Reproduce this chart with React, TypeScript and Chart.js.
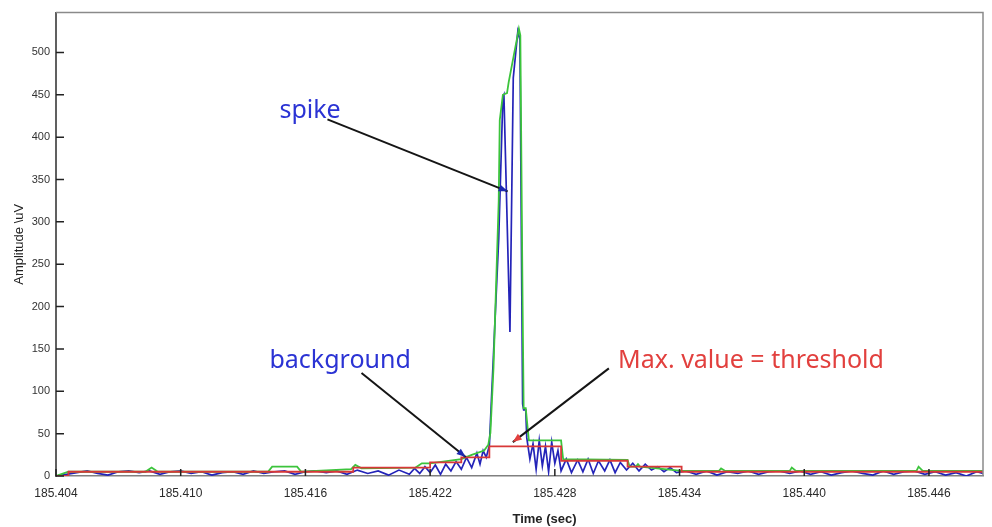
import React, { useEffect, useRef } from "react";
import { Chart, registerables } from "chart.js";

Chart.register(...registerables);

// Time axis: milliseconds after T0 seconds
const T0 = 185.404;
const X_MIN = 0;
const X_MAX = 44.6;
const Y_MIN = 0;
const Y_MAX = 547;
const xTickMs = [0, 6, 12, 18, 24, 30, 36, 42];
const yTickValues = [0, 50, 100, 150, 200, 250, 300, 350, 400, 450, 500];

// Blue: raw signal amplitude (uV)
const blueMs = [
  0, 0.5, 1.0, 1.5, 2.0, 2.5, 3.0, 3.5, 4.0, 4.5, 5.0, 5.5, 6.0, 6.5, 7.0, 7.5, 8.0, 8.5, 9.0, 9.5,
  10.0, 10.5, 11.0, 11.5, 12.0, 12.5, 13.0, 13.5, 14.0, 14.5, 15.0, 15.5, 16.0, 16.5, 17.0, 17.25,
  17.5, 17.75, 18.0, 18.25, 18.5, 18.75, 19.0, 19.25, 19.5, 19.75, 20.0, 20.25, 20.4, 20.55, 20.7, 20.85,
  21.3, 21.5, 21.55, 21.84, 22.0, 22.1, 22.22, 22.32, 22.45, 22.5, 22.6, 22.65,
  22.8, 22.95, 23.1, 23.25, 23.4, 23.55, 23.7, 23.85, 24.0, 24.15, 24.3,
  24.55, 24.8, 25.1, 25.35, 25.6, 25.85, 26.1, 26.4, 26.65, 26.9, 27.15, 27.45,
  27.75, 28.05, 28.35, 28.65, 28.95, 29.25, 29.55, 29.85,
  30.3, 30.8, 31.3, 31.8, 32.3, 32.8, 33.3, 33.8, 34.3, 34.8, 35.3, 35.8, 36.3, 36.8, 37.3, 37.8,
  38.3, 38.8, 39.3, 39.8, 40.3, 40.8, 41.3, 41.8, 42.3, 42.8, 43.3, 43.8, 44.3, 44.6,
];
const blueUv = [
  0, 2, 4, 6, 3, 1, 5, 6, 4, 6, 2, 5, 6, 3, 5, 1, 4, 5, 2, 6,
  3, 5, 6, 2, 5, 6, 4, 6, 2, 7, 3, 6, 1, 7, 2, 9,
  3, 11, 4, 13, 2, 14, 6, 17, 8, 22, 10, 27, 14, 30, 22, 36,
  280, 447, 450, 170, 470, 495, 525, 515, 85, 78, 78, 45,
  20, 38, 8, 42, 12, 35, 5, 40, 15, 30, 6,
  20, 4, 19, 5, 20, 3, 18, 6, 19, 4, 16, 7,
  15, 6, 14, 7, 11, 5, 10, 4,
  6, 2, 6, 1, 5, 3, 6, 2, 5, 6, 3, 6, 2, 5, 1, 4,
  6, 3, 1, 6, 2, 5, 6, 2, 5, 1, 4, 0, 5, 3,
];

// Green: envelope
const greenMs = [
  0, 0.6, 4.3, 4.6, 4.9, 10.2, 10.4, 11.6, 11.8, 14.2, 14.4, 14.7, 17.3, 17.6, 18.0, 19.5, 20.0, 20.6,
  20.8, 20.9, 21.05, 21.3, 21.35, 21.5, 21.7, 21.78, 22.27, 22.34, 22.45, 22.5, 22.6, 22.75,
  24.3, 24.4, 27.5, 27.6, 27.9, 28.0, 28.1, 30.1, 31.9, 32.0, 32.2, 35.3, 35.4, 35.6, 41.4, 41.5, 41.7, 44.6,
];
const greenUv = [
  0, 5, 5, 10, 5, 5, 11, 11, 5, 8, 13, 9, 10, 15, 15, 20, 25, 30,
  37, 51, 128, 325, 420, 450, 452, 465, 528, 520, 200, 80, 80, 42,
  42, 20, 19, 11, 11, 14, 11, 6, 6, 9, 6, 6, 10, 6, 6, 11, 6, 6,
];

// Red: threshold (stepped)
const redMs = [0, 0.6, 14.3, 18.0, 19.5, 20.85, 24.3, 27.5, 30.1, 44.6];
const redUv = [0, 5, 10, 16, 22, 35, 18, 11, 5, 5];

// Annotations in data units (ms, uV)
const annotationTexts = ["spike", "background", "Max. value = threshold"];
const annotationColors = ["#2b33d4", "#2b33d4", "#e2403e"];
const annotationHeadColors = ["#1c28b0", "#1c28b0", "#e2403e"];
const annotationTextAt = [[10.75, 423], [10.27, 127.4], [27.04, 127.4]];
const annotationArrowFrom = [[13.06, 421], [14.7, 121.5], [26.6, 127]];
const annotationArrowTo = [[21.73, 336], [19.71, 22.4], [21.98, 40]];

const pts = (xs: number[], ys: number[]) => xs.map((x, i) => ({ x, y: ys[i] }));

const decorPlugin = {
  id: "decor",
  afterDraw(chart: any) {
    const { ctx, chartArea: ca, scales } = chart;
    const xs = scales.x;
    const ys = scales.y;
    ctx.save();
    // frame top/right
    ctx.strokeStyle = "#8a8a8a";
    ctx.lineWidth = 1.5;
    ctx.beginPath();
    ctx.moveTo(ca.left, ca.top);
    ctx.lineTo(ca.right, ca.top);
    ctx.lineTo(ca.right, ca.bottom);
    ctx.stroke();
    // inward tick marks
    ctx.strokeStyle = "#222";
    ctx.lineWidth = 1.5;
    ctx.beginPath();
    yTickValues.forEach((v) => {
      const py = ys.getPixelForValue(v);
      ctx.moveTo(ca.left, py);
      ctx.lineTo(ca.left + 8, py);
    });
    xTickMs.forEach((v) => {
      const px = xs.getPixelForValue(v);
      ctx.moveTo(px, ca.bottom);
      ctx.lineTo(px, ca.bottom - 7);
    });
    ctx.stroke();

    // x axis title
    ctx.fillStyle = "#222";
    ctx.font = "bold 13px 'Liberation Sans', Arial, sans-serif";
    ctx.textAlign = "center";
    ctx.textBaseline = "middle";
    ctx.fillText("Time (sec)", ca.left + (ca.right - ca.left) * 0.527, 519);

    // annotations
    annotationTexts.forEach((text, i) => {
      const fx = xs.getPixelForValue(annotationArrowFrom[i][0]);
      const fy = ys.getPixelForValue(annotationArrowFrom[i][1]);
      const tx = xs.getPixelForValue(annotationArrowTo[i][0]);
      const ty = ys.getPixelForValue(annotationArrowTo[i][1]);
      ctx.strokeStyle = "#151515";
      ctx.lineWidth = 2;
      ctx.beginPath();
      ctx.moveTo(fx, fy);
      ctx.lineTo(tx, ty);
      ctx.stroke();
      const ang = Math.atan2(ty - fy, tx - fx);
      const L = 9;
      const W = 3.5;
      ctx.fillStyle = annotationHeadColors[i];
      ctx.beginPath();
      ctx.moveTo(tx, ty);
      ctx.lineTo(tx - L * Math.cos(ang) + W * Math.sin(ang), ty - L * Math.sin(ang) - W * Math.cos(ang));
      ctx.lineTo(tx - L * Math.cos(ang) - W * Math.sin(ang), ty - L * Math.sin(ang) + W * Math.cos(ang));
      ctx.closePath();
      ctx.fill();

      ctx.fillStyle = annotationColors[i];
      ctx.font = "25px 'Noto Sans', 'DejaVu Sans', sans-serif";
      ctx.textAlign = "left";
      ctx.textBaseline = "alphabetic";
      ctx.fillText(text, xs.getPixelForValue(annotationTextAt[i][0]), ys.getPixelForValue(annotationTextAt[i][1]));
    });
    ctx.restore();
  },
};

export default function App() {
  const ref = useRef<HTMLCanvasElement | null>(null);
  useEffect(() => {
    if (!ref.current) return;
    const chart = new Chart(ref.current, {
      type: "line",
      data: {
        datasets: [
          {
            label: "envelope",
            data: pts(greenMs, greenUv),
            borderColor: "#3cc43c",
            borderWidth: 1.8,
            pointRadius: 0,
            tension: 0,
            order: 2,
          },
          {
            label: "signal",
            data: pts(blueMs, blueUv),
            borderColor: "#2424b8",
            borderWidth: 1.7,
            pointRadius: 0,
            tension: 0,
            order: 3,
          },
          {
            label: "threshold",
            data: pts(redMs, redUv),
            borderColor: "#d83838",
            borderWidth: 1.8,
            pointRadius: 0,
            stepped: true,
            order: 1,
          },
        ],
      },
      options: {
        animation: false,
        responsive: false,
        events: [],
        layout: { padding: { top: 12, right: 9, left: 0, bottom: 0 } },
        plugins: { legend: { display: false }, tooltip: { enabled: false } },
        scales: {
          x: {
            type: "linear",
            min: X_MIN,
            max: X_MAX,
            grid: { display: false, drawTicks: false },
            border: { display: true, color: "#808080", width: 1.5 },
            afterBuildTicks: (scale: any) => {
              scale.ticks = xTickMs.map((v) => ({ value: v }));
            },
            afterFit: (scale: any) => {
              scale.height = 51;
            },
            ticks: {
              padding: 10,
              color: "#2a2a2a",
              font: { size: 12, family: "'Liberation Sans', Arial, sans-serif" },
              maxRotation: 0,
              autoSkip: false,
              callback: (v: any) => (T0 + Number(v) / 1000).toFixed(3),
            },
          },
          y: {
            type: "linear",
            min: Y_MIN,
            max: Y_MAX,
            grid: { display: false, drawTicks: false },
            border: { display: true, color: "#606060", width: 2 },
            afterBuildTicks: (scale: any) => {
              scale.ticks = yTickValues.map((v) => ({ value: v }));
            },
            afterFit: (scale: any) => {
              scale.width = 56;
            },
            ticks: {
              padding: 6,
              color: "#333",
              font: { size: 11, family: "'Liberation Sans', Arial, sans-serif" },
              autoSkip: false,
            },
            title: {
              display: true,
              text: "Amplitude \\uV",
              color: "#222",
              font: { size: 13, family: "'Liberation Sans', Arial, sans-serif" },
              padding: { top: 12, bottom: 0 },
            },
          },
        },
      },
      plugins: [decorPlugin],
    });
    return () => chart.destroy();
  }, []);
  return (
    <canvas
      ref={ref}
      width={992}
      height={527}
      style={{ position: "fixed", left: 0, top: 0, width: 992, height: 527, background: "#fff" }}
    />
  );
}
